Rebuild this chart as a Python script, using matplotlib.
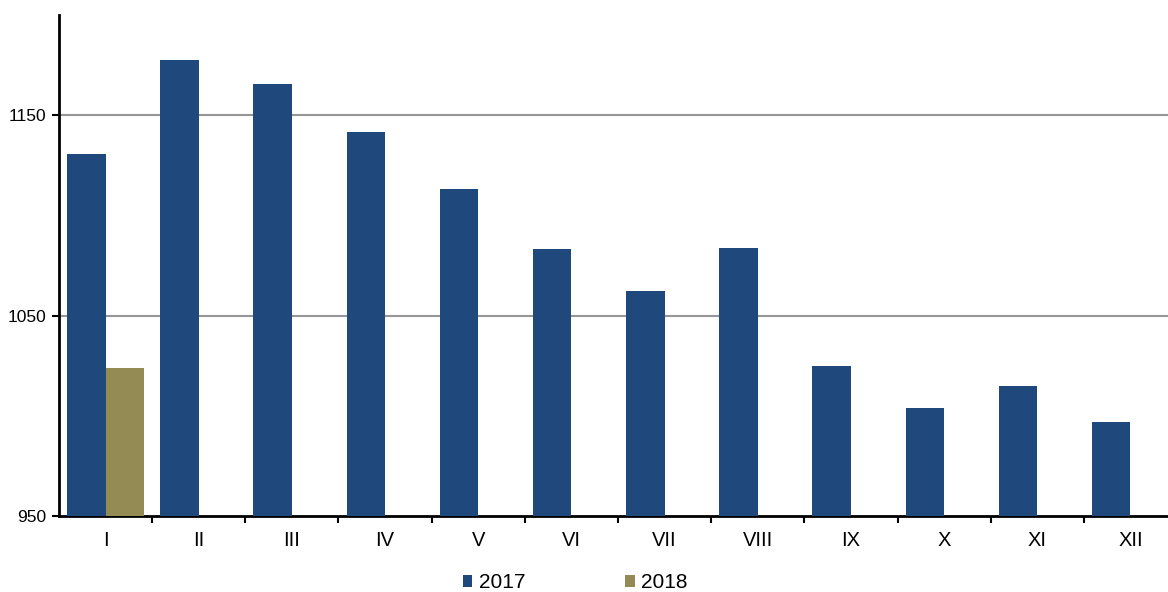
import matplotlib
matplotlib.use("Agg")
import matplotlib.pyplot as plt
import numpy as np

plt.rcParams['font.family'] = ['Liberation Sans', 'DejaVu Sans']

categories = ["I", "II", "III", "IV", "V", "VI", "VII", "VIII", "IX", "X", "XI", "XII"]
values_2017 = [1130.5, 1177.5, 1165.5, 1141.5, 1113, 1083, 1062.5, 1083.5, 1025, 1004, 1015, 997]
values_2018 = [1024]
ytick_vals = [950, 1050, 1150]

c2017 = "#1F497D"
c2018 = "#948A54"

W, H = 1168, 592
fig = plt.figure(figsize=(W / 100, H / 100), dpi=100)
ax = fig.add_axes([59 / W, 1 - 516 / H, (1177 - 59) / W, (516 - 15) / H])

x = np.arange(len(categories))
bw = 0.414
ax.bar(x - bw / 2, np.array(values_2017) - 950, bw, bottom=950, color=c2017, label="2017", zorder=3)
x18 = x[:len(values_2018)]
ax.bar(x18 + bw / 2, np.array(values_2018) - 950, bw, bottom=950, color=c2018, label="2018", zorder=3)

ax.set_xlim(-0.5, len(categories) - 0.5)
ax.set_ylim(950, 1200)
ax.set_yticks(ytick_vals)
ax.set_yticklabels([str(v) for v in ytick_vals], fontsize=12.5)
for v in ytick_vals[1:]:
    ax.axhline(v, color="#969696", lw=1.5, zorder=1)

ax.set_xticks(x)
ax.set_xticklabels(categories, fontsize=14.5)
ax.set_xticks(np.arange(len(categories)) + 0.5, minor=True)
ax.tick_params(axis="x", which="major", length=0, pad=11)
ax.tick_params(axis="x", which="minor", length=5, width=1.5, direction="out")
ax.tick_params(axis="y", length=5, width=1.5, direction="out", pad=4)

for s in ["top", "right"]:
    ax.spines[s].set_visible(False)
ax.spines["left"].set_linewidth(2)
ax.spines["bottom"].set_linewidth(2)

leg = fig.legend(loc="center", bbox_to_anchor=(0.4925, 1 - 583 / H), ncol=2, frameon=False,
                 fontsize=15, handlelength=0.45, handleheight=0.45, handletextpad=0.3,
                 columnspacing=4.8)

fig.savefig("out.png", dpi=100)
